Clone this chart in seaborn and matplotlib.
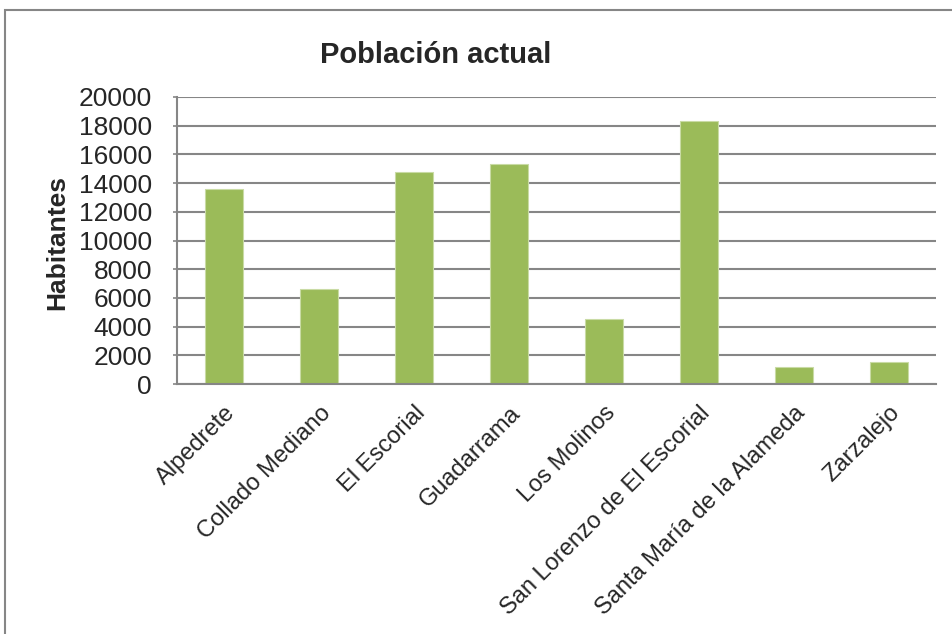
import matplotlib
matplotlib.use("Agg")
import matplotlib.pyplot as plt
from matplotlib.patches import Rectangle
import pandas as pd
import seaborn as sns

# Data
municipios = ["Alpedrete", "Collado Mediano", "El Escorial", "Guadarrama",
              "Los Molinos", "San Lorenzo de El Escorial",
              "Santa María de la Alameda", "Zarzalejo"]
habitantes = [13600, 6600, 14800, 15300, 4500, 18300, 1200, 1500]
y_ticks = list(range(0, 20001, 2000))

df = pd.DataFrame({"Municipio": municipios, "Habitantes": habitantes})

sns.set_style("white")
plt.rcParams["font.family"] = ["Liberation Sans", "DejaVu Sans"]

fig = plt.figure(figsize=(9.53, 6.34), dpi=100)
ax = fig.add_axes([177 / 953, 1 - 384 / 634, (936 - 177) / 953, (384 - 97) / 634])

sns.barplot(data=df, x="Municipio", y="Habitantes", color="#9BBB59",
            saturation=1, width=0.4, edgecolor="#C9DBA5", linewidth=0.8, ax=ax)

ax.set_ylim(0, 20000)
ax.set_yticks(y_ticks)
ax.set_yticklabels([str(t) for t in y_ticks], fontsize=19)
ax.set_xlim(-0.5, len(municipios) - 0.5)
ax.yaxis.grid(True, color="#868686", linewidth=1.5)
ax.set_axisbelow(True)

for side in ["top", "right"]:
    ax.spines[side].set_visible(False)
for side in ["left", "bottom"]:
    ax.spines[side].set_color("#868686")
    ax.spines[side].set_linewidth(1.5)

ax.tick_params(axis="y", length=3, color="#868686", width=1.2, pad=15, left=True)
ax.tick_params(axis="x", length=0, pad=13)
for lab in ax.get_xticklabels():
    lab.set_rotation(45)
    lab.set_ha("right")
    lab.set_va("top")
    lab.set_rotation_mode("anchor")
    lab.set_fontsize(17)

ax.set_xlabel("")
ax.set_ylabel("")
fig.text(57 / 953, 1 - 242 / 634, "Habitantes", rotation=90, fontsize=19,
         fontweight="bold", ha="center", va="center")
fig.text(436 / 953, 1 - 55 / 634, "Población actual", fontsize=21,
         fontweight="bold", ha="center", va="center")

# chart frame (only left and top edges fall inside the picture)
fig.patches.append(Rectangle((4.5 / 953, -0.2), 1.2, 1.2 + (1 - 10.5 / 634) - 1,
                             transform=fig.transFigure, fill=False,
                             edgecolor="#868686", linewidth=1.5))

fig.savefig("out.png", dpi=100)
